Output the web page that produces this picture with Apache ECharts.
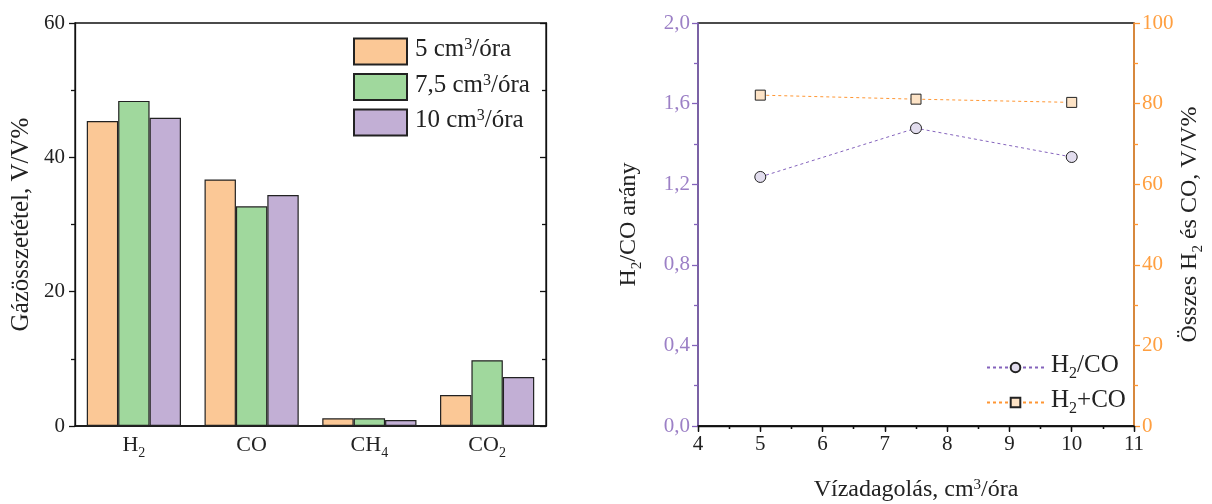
<!DOCTYPE html>
<html><head><meta charset="utf-8">
<script src="https://cdn.jsdelivr.net/npm/echarts@6/dist/echarts.min.js"></script>
<style>html,body{margin:0;padding:0;background:#fff}#c{width:1212px;height:504px}</style>
</head><body><div id="c"></div>
<script>
// ---- data ----
const gasCategories = ['H2', 'CO', 'CH4', 'CO2'];
const feedNames = ['5', '7,5', '10'];
const gas5 = [45.4, 36.7, 1.15, 4.6];
const gas75 = [48.4, 32.7, 1.15, 9.8];
const gas10 = [45.9, 34.4, 0.9, 7.3];
const leftTicks = [0, 20, 40, 60];

const feedRates = [5, 7.5, 10];
const ratioH2CO = [1.236, 1.478, 1.335];
const sumH2CO = [82.1, 81.1, 80.3];

// ---- styling ----
const FONT = 'Liberation Serif';
const TICK_FS = 21;
const barColors = ['#FBC896', '#A0D89D', '#C2AFD5'];
const purpleLine = '#8463BC', purpleText = '#9C80C6';
const orangeLine = '#FF9633', orangeText = '#FF9F40';

function makeRich(fs, color) {
  const lh = fs + 4;
  const desired = lh / 2 + 0.35 * fs + 1;
  const subLH = 2 * (lh - desired);
  const sfs = Math.round(fs * 0.64);
  return {
    n: {fontFamily: FONT, fontSize: fs, color: color, lineHeight: lh, verticalAlign: 'top'},
    s: {fontFamily: FONT, fontSize: sfs, color: color, lineHeight: subLH, verticalAlign: 'bottom'},
    p: {fontFamily: FONT, fontSize: sfs, color: color, lineHeight: Math.round(fs * 0.66), verticalAlign: 'top'}
  };
}
const richCat = makeRich(22, '#222');
const richName = makeRich(24, '#222');
const richLeg = makeRich(25, '#222');

function chem(t) {
  return t.replace(/([^0-9]+)|([0-9]+)/g, (m, a, b) => a ? '{n|' + a + '}' : '{s|' + b + '}');
}
const feedSeriesNames = feedNames.map(n => n + ' cm3/óra');

const option = {
  animation: false,
  grid: [
    {left: 75, right: 666, top: 23, bottom: 78, show: true, borderColor: '#111', borderWidth: 1.3, outerBoundsMode: 'none', containLabel: false},
    {left: 698, right: 78, top: 23, bottom: 78, show: true, borderColor: '#111', borderWidth: 1.3, outerBoundsMode: 'none', containLabel: false}
  ],
  legend: [
    {
      data: feedSeriesNames, left: 353, top: 37, orient: 'vertical', icon: 'rect', padding: 0,
      itemWidth: 53, itemHeight: 26, itemGap: 7,
      formatter: name => '{n|' + name.replace(' cm3/óra', ' cm') + '}{p|3}{n|/óra}',
      textStyle: {rich: richLeg, padding: [0, 0, 0, 3]}
    },
    {
      data: ['H2/CO', 'H2+CO'], left: 986, top: 353, orient: 'vertical', padding: 0,
      itemWidth: 57, itemHeight: 12, itemGap: 6,
      formatter: name => chem(name),
      textStyle: {rich: richLeg, padding: [0, 0, 0, 2]}
    }
  ],
  xAxis: [
    {
      type: 'category', gridIndex: 0, data: gasCategories,
      axisLine: {lineStyle: {color: '#111', width: 1.5}},
      axisTick: {show: false},
      axisLabel: {formatter: v => chem(v), rich: richCat, margin: 8}
    },
    {
      type: 'value', gridIndex: 1, min: 4, max: 11, interval: 1,
      axisLine: {lineStyle: {color: '#111', width: 1.5}},
      axisTick: {show: true, length: 6, lineStyle: {color: '#111', width: 1.3}},
      minorTick: {show: true, splitNumber: 2, length: 3, lineStyle: {color: '#111', width: 1.3}},
      splitLine: {show: false},
      axisLabel: {fontFamily: FONT, fontSize: TICK_FS, color: '#222', margin: 8},
      name: '{n|Vízadagolás, cm}{p|3}{n|/óra}', nameLocation: 'middle', nameGap: 52,
      nameTextStyle: {rich: richName}
    },
    {
      type: 'value', gridIndex: 1, position: 'top', min: 4, max: 11, interval: 1,
      axisLine: {lineStyle: {color: '#111', width: 1.3}},
      axisTick: {show: true, inside: true, length: 5, lineStyle: {color: '#111', width: 1.3}},
      minorTick: {show: true, splitNumber: 2, length: 3, lineStyle: {color: '#111', width: 1.3}},
      splitLine: {show: false}, axisLabel: {show: false}
    }
  ],
  yAxis: [
    {
      type: 'value', gridIndex: 0, min: leftTicks[0], max: leftTicks[leftTicks.length - 1], interval: 20,
      axisLine: {show: true, lineStyle: {color: '#111', width: 1.3}},
      axisTick: {show: true, length: 6, lineStyle: {color: '#111', width: 1.3}},
      minorTick: {show: true, splitNumber: 2, length: 4, lineStyle: {color: '#111', width: 1.3}},
      splitLine: {show: false},
      axisLabel: {fontFamily: FONT, fontSize: TICK_FS, color: '#222', margin: 10},
      name: 'Gázösszetétel, V/V%', nameLocation: 'middle', nameGap: 41,
      nameTextStyle: {fontFamily: FONT, fontSize: 25, color: '#222'}
    },
    {
      type: 'value', gridIndex: 0, position: 'right', min: 0, max: 60, interval: 20,
      axisLine: {show: true, lineStyle: {color: '#111', width: 1.3}},
      axisTick: {show: true, inside: true, length: 6, lineStyle: {color: '#111', width: 1.3}},
      minorTick: {show: true, splitNumber: 2, length: 4, lineStyle: {color: '#111', width: 1.3}},
      splitLine: {show: false}, axisLabel: {show: false}
    },
    {
      type: 'value', gridIndex: 1, min: 0, max: 2, interval: 0.4,
      axisLine: {show: true, lineStyle: {color: purpleLine, width: 1.5}},
      axisTick: {show: true, length: 6, lineStyle: {color: purpleLine, width: 1.3}},
      minorTick: {show: true, splitNumber: 2, length: 4, lineStyle: {color: purpleLine, width: 1.3}},
      splitLine: {show: false},
      axisLabel: {fontFamily: FONT, fontSize: TICK_FS, color: purpleText, margin: 8,
        formatter: v => v.toFixed(1).replace('.', ',')},
      name: '{n|H}{s|2}{n|/CO arány}', nameLocation: 'middle', nameGap: 53,
      nameTextStyle: {rich: richName}
    },
    {
      type: 'value', gridIndex: 1, position: 'right', min: 0, max: 100, interval: 20,
      axisLine: {show: true, lineStyle: {color: orangeLine, width: 1.5}},
      axisTick: {show: true, length: 6, lineStyle: {color: orangeLine, width: 1.3}},
      minorTick: {show: true, splitNumber: 2, length: 4, lineStyle: {color: orangeLine, width: 1.3}},
      splitLine: {show: false},
      axisLabel: {fontFamily: FONT, fontSize: TICK_FS, color: orangeText, margin: 8},
      name: '{n|Összes H}{s|2}{n| és CO, V/V%}', nameLocation: 'middle', nameGap: 43,
      nameTextStyle: {rich: richName}
    }
  ],
  series: [
    ...[gas5, gas75, gas10].map((d, i) => ({
      name: feedSeriesNames[i], type: 'bar', xAxisIndex: 0, yAxisIndex: 0, data: d,
      barGap: '0%', barCategoryGap: '20%',
      itemStyle: {color: barColors[i], borderColor: '#222', borderWidth: 1.2}
    })),
    {
      name: 'H2/CO', type: 'line', xAxisIndex: 1, yAxisIndex: 2,
      data: feedRates.map((x, i) => [x, ratioH2CO[i]]),
      symbol: 'circle', symbolSize: 11,
      lineStyle: {color: purpleLine, width: 1, type: [3, 3]},
      itemStyle: {color: '#E2DDEE', borderColor: '#222', borderWidth: 1}
    },
    {
      name: 'H2+CO', type: 'line', xAxisIndex: 1, yAxisIndex: 3,
      data: feedRates.map((x, i) => [x, sumH2CO[i]]),
      symbol: 'rect', symbolSize: 10,
      lineStyle: {color: orangeLine, width: 1, type: [3, 3]},
      itemStyle: {color: '#FDE3C6', borderColor: '#222', borderWidth: 1}
    }
  ]
};
const chart = echarts.init(document.getElementById('c'), null, {renderer: 'canvas'});
chart.setOption(option);
</script></body></html>
